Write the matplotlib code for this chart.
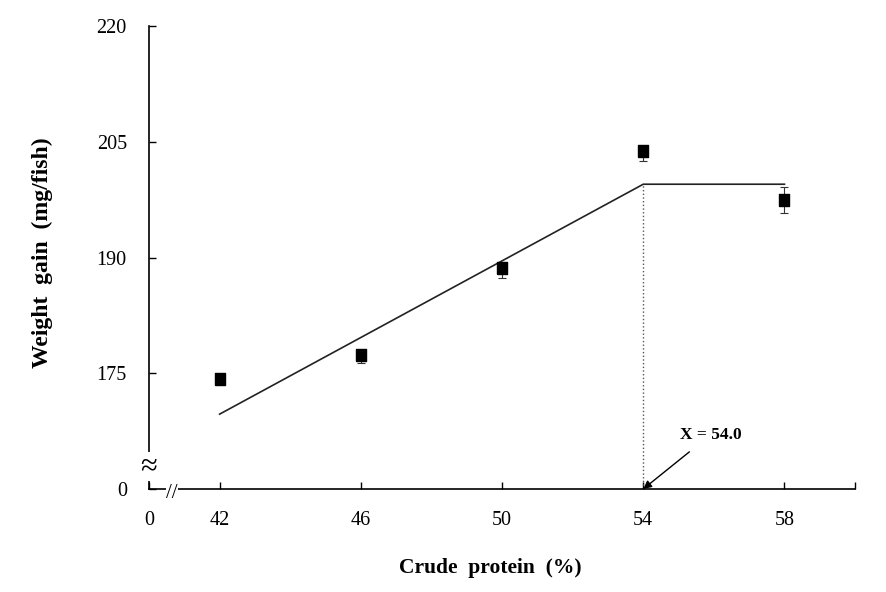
import matplotlib.pyplot as plt

plt.rcParams['font.family'] = ['Liberation Serif', 'DejaVu Serif']

# Datos
protein = [42, 46, 50, 54, 58]
gain = [174.3, 177.4, 188.6, 203.8, 197.5]
err_low = [0.0, 1.1, 1.3, 1.35, 1.7]
err_high = [0.0, 0.0, 0.0, 0.0, 1.7]

# Modelo de línea quebrada (broken-line)
fit_x = [42, 54, 58]
fit_y = [169.7, 199.5, 199.5]
breakpoint_x = 54.0

# Ejes con corte: 40 se rotula como 0 en x, 160 como 0 en y
x_ticks = [40, 42, 46, 50, 54, 58, 60]
x_labels = ['0', '42', '46', '50', '54', '58', '']
y_ticks = [160, 175, 190, 205, 220]
y_labels = ['0', '175', '190', '205', '220']

# Marcador rectangular (más alto que ancho)
rect = [(-0.42, -0.5), (0.42, -0.5), (0.42, 0.5), (-0.42, 0.5), (-0.42, -0.5)]

fig = plt.figure(figsize=(8.87, 5.92), dpi=100)
ax = fig.add_axes([0.168, 0.174, 0.796, 0.782])

ax.plot(fit_x, fit_y, color='#222222', linewidth=1.2)
ax.errorbar(protein, gain, yerr=[err_low, err_high], fmt='none',
            ecolor='#333333', elinewidth=0.8, capsize=3, capthick=0.8)
ax.plot(protein, gain, linestyle='none', marker=rect, markersize=9,
        color='black', zorder=5)

# Línea punteada hasta el eje y flecha
ax.plot([breakpoint_x, breakpoint_x], [160, fit_y[1]], color='#555555',
        linestyle=':', linewidth=1.0)
ax.annotate('X = 54.0', xy=(breakpoint_x, 160), xytext=(55.9, 167.0),
            ha='center', va='center', fontsize=12.5, fontweight='bold',
            arrowprops=dict(arrowstyle='-|>', color='black', lw=1.0,
                            shrinkA=7, shrinkB=0, mutation_scale=12))

ax.set_xlim(40, 60)
ax.set_ylim(160, 220)
ax.set_xticks(x_ticks)
ax.set_xticklabels(x_labels)
ax.set_yticks(y_ticks)
ax.set_yticklabels(y_labels)
ax.tick_params(direction='in', length=5, width=1, labelsize=14.5, pad=16)

for side in ['top', 'right']:
    ax.spines[side].set_visible(False)
for side in ['left', 'bottom']:
    ax.spines[side].set_linewidth(1.2)

# Marcas de corte en los ejes
ax.text(40, 162.9, '≈', ha='center', va='center', fontsize=22,
        bbox=dict(facecolor='white', edgecolor='none', pad=0.2), clip_on=False)
ax.text(40.65, 159.4, '//', ha='center', va='center', fontsize=15,
        bbox=dict(facecolor='white', edgecolor='none', pad=0.1), clip_on=False)

ax.set_xlabel('Crude  protein  (%)', fontsize=15.5, fontweight='bold')
ax.set_ylabel('Weight  gain  (mg/fish)', fontsize=17, fontweight='bold')
ax.xaxis.set_label_coords(0.483, -0.149)
ax.yaxis.set_label_coords(-0.136, 0.51)

plt.savefig('out.png', dpi=100)
plt.close()
